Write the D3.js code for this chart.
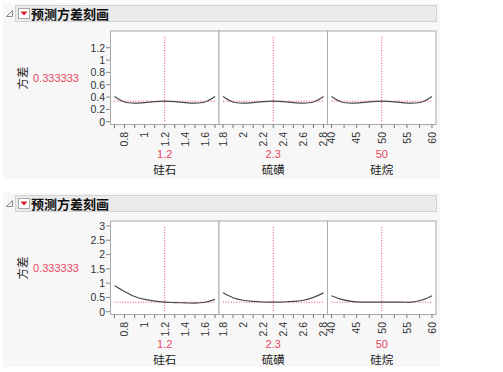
<!DOCTYPE html>
<html>
  <head>
    <meta charset="utf-8">
    <script src="https://d3js.org/d3.v7.min.js"></script>
    <title>预测方差刻画</title>
    <style>
      body { margin: 0px; background: #fff; }
      text { font-family: "Liberation Sans", "Noto Sans CJK SC", sans-serif; }
      .tick-label { fill: #333; font-size: 10.5px; }
      .name { fill: #222; font-size: 11.5px; font-family: "Noto Sans CJK SC", sans-serif; }
      .red { fill: #e8475f; font-size: 11px; }
    </style>
  </head>
  <body>
    <div id="viz"></div>
    <script>
      // factors and their current settings
      const factors = ["硅石", "硫磺", "硅烷"];
      const current = [1.2, 2.3, 50];
      const currentVariance = 0.333333;

      // x grids for each factor
      const silicaX = [0.7, 0.8, 0.9, 1.0, 1.1, 1.2, 1.3, 1.4, 1.5, 1.6, 1.7];
      const sulfurX = [1.8, 1.9, 2.0, 2.1, 2.2, 2.3, 2.4, 2.5, 2.6, 2.7, 2.8];
      const silaneX = [40, 42, 44, 46, 48, 50, 52, 54, 56, 58, 60];

      // tick labels + minor tick spacing
      const silicaTicks = [0.8, 1, 1.2, 1.4, 1.6];
      const sulfurTicks = [1.8, 2, 2.2, 2.4, 2.6, 2.8];
      const silaneTicks = [40, 45, 50, 55, 60];
      const minorStep = [0.1, 0.1, 2.5];

      // variance profile, first report
      const topSilica = [0.41, 0.32, 0.30, 0.31, 0.325, 0.333, 0.325, 0.31, 0.30, 0.32, 0.41];
      const topSulfur = [0.41, 0.32, 0.30, 0.31, 0.325, 0.333, 0.325, 0.31, 0.30, 0.32, 0.41];
      const topSilane = [0.41, 0.32, 0.30, 0.31, 0.325, 0.333, 0.325, 0.31, 0.30, 0.32, 0.41];

      // variance profile, second report
      const botSilica = [0.91, 0.71, 0.53, 0.43, 0.37, 0.333, 0.32, 0.31, 0.30, 0.33, 0.43];
      const botSulfur = [0.66, 0.49, 0.40, 0.36, 0.34, 0.333, 0.34, 0.36, 0.40, 0.50, 0.66];
      const botSilane = [0.56, 0.43, 0.36, 0.335, 0.333, 0.333, 0.333, 0.333, 0.335, 0.41, 0.56];

      const topYTicks = [0, 0.2, 0.4, 0.6, 0.8, 1, 1.2];
      const botYTicks = [0, 0.5, 1, 1.5, 2, 2.5, 3];

      const xGrids = [silicaX, sulfurX, silaneX];
      const xTicks = [silicaTicks, sulfurTicks, silaneTicks];

      const red = "#e8475f";
      const width = 503, height = 372;

      const svg = d3.select("#viz").append("svg")
        .attr("width", width)
        .attr("height", height);

      const fmt = v => String(+v.toFixed(2));

      // yTopPx = where the last y tick sits inside the block
      const drawBlock = (oy, bgH, yTicks, yTopPx, series) => {
        const g = svg.append("g").attr("transform", `translate(0,${oy})`);

        // grey report background
        g.append("rect")
          .attr("x", 3).attr("y", 3)
          .attr("width", 437).attr("height", bgH)
          .attr("fill", "#f7f7f7");

        // header bar
        g.append("rect")
          .attr("x", 15.5).attr("y", 5.5)
          .attr("width", 421).attr("height", 16)
          .attr("fill", "#eaeaea")
          .attr("stroke", "#d2d2d2");

        // disclosure triangle
        g.append("path")
          .attr("d", "M12.5,10.5 L12.5,16.5 L6.5,16.5 Z")
          .attr("fill", "none")
          .attr("stroke", "#8a8a8a");

        // red menu button
        g.append("rect")
          .attr("x", 18.5).attr("y", 8.5)
          .attr("width", 11).attr("height", 10)
          .attr("fill", "#fff")
          .attr("stroke", "#a8a8a8");
        g.append("path")
          .attr("d", "M20.5,11.5 L27.5,11.5 L24,15.5 Z")
          .attr("fill", "#d81e2c");

        g.append("text")
          .attr("x", 31).attr("y", 18.5)
          .attr("font-size", "13px")
          .attr("font-weight", "bold")
          .style("font-family", "'Noto Sans CJK SC', sans-serif")
          .attr("fill", "#111")
          .text("预测方差刻画");

        const top = 31, bottom = 124.5;

        const y = d3.scaleLinear()
          .domain([0, yTicks[yTicks.length - 1]])
          .range([121.7, yTopPx]);

        // y axis label + current value
        g.append("text")
          .attr("class", "name")
          .attr("transform", "translate(27,78) rotate(-90)")
          .attr("text-anchor", "middle")
          .text("方差");
        g.append("text")
          .attr("class", "red")
          .attr("x", 33).attr("y", 82)
          .text("0.333333");

        // y ticks
        const yt = g.append("g");
        yt.selectAll("line").data(yTicks).enter().append("line")
          .attr("x1", 106).attr("x2", 110)
          .attr("y1", d => y(d)).attr("y2", d => y(d))
          .attr("stroke", "#888");
        yt.selectAll("text").data(yTicks).enter().append("text")
          .attr("class", "tick-label")
          .attr("x", 105).attr("y", d => y(d) + 3.8)
          .attr("text-anchor", "end")
          .text(fmt);

        const band = d3.scaleBand().domain(factors).range([110.5, 436]);

        factors.forEach((f, i) => {
          const x0 = band(f), x1 = x0 + band.bandwidth();
          const grid = xGrids[i];
          const x = d3.scaleLinear()
            .domain(d3.extent(grid))
            .range([x0 + 4, x1 - 4]);

          g.append("rect")
            .attr("x", x0).attr("y", top)
            .attr("width", x1 - x0).attr("height", bottom - top)
            .attr("fill", "#fff")
            .attr("stroke", "#a9a9a9");

          // ticks, minor and major
          const lo = grid[0], hi = grid[grid.length - 1];
          const minor = d3.range(lo, hi + minorStep[i] / 2, minorStep[i]);
          g.selectAll(null).data(minor).enter().append("line")
            .attr("x1", d => x(d)).attr("x2", d => x(d))
            .attr("y1", bottom).attr("y2", bottom + 3.5)
            .attr("stroke", "#777");

          g.selectAll(null).data(xTicks[i]).enter().append("text")
            .attr("class", "tick-label")
            .attr("transform", d => `translate(${x(d) + 3.8},132) rotate(-90)`)
            .attr("text-anchor", "end")
            .text(fmt);

          // current value + factor name
          g.append("text")
            .attr("class", "red")
            .attr("x", x(current[i])).attr("y", 158)
            .attr("text-anchor", "middle")
            .text(fmt(current[i]));
          g.append("text")
            .attr("class", "name")
            .attr("x", x(current[i])).attr("y", 174)
            .attr("text-anchor", "middle")
            .text(f);

          // reference lines
          g.append("line")
            .attr("x1", x(lo)).attr("x2", x(hi))
            .attr("y1", y(currentVariance)).attr("y2", y(currentVariance))
            .attr("stroke", red).attr("stroke-dasharray", "1,1.6");
          g.append("line")
            .attr("x1", x(current[i])).attr("x2", x(current[i]))
            .attr("y1", top + 6).attr("y2", y(0))
            .attr("stroke", red).attr("stroke-dasharray", "1,1.6");

          // variance curve
          const line = d3.line()
            .x((d, k) => x(grid[k]))
            .y(d => y(d))
            .curve(d3.curveCatmullRom);
          g.append("path")
            .datum(series[i])
            .attr("d", line)
            .attr("fill", "none")
            .attr("stroke", "#4a4a4a")
            .attr("stroke-width", 1.2);
        });
      };

      drawBlock(0, 176, topYTicks, 47.7, [topSilica, topSulfur, topSilane]);
      drawBlock(190, 174, botYTicks, 36, [botSilica, botSulfur, botSilane]);
    </script>
  </body>
</html>
